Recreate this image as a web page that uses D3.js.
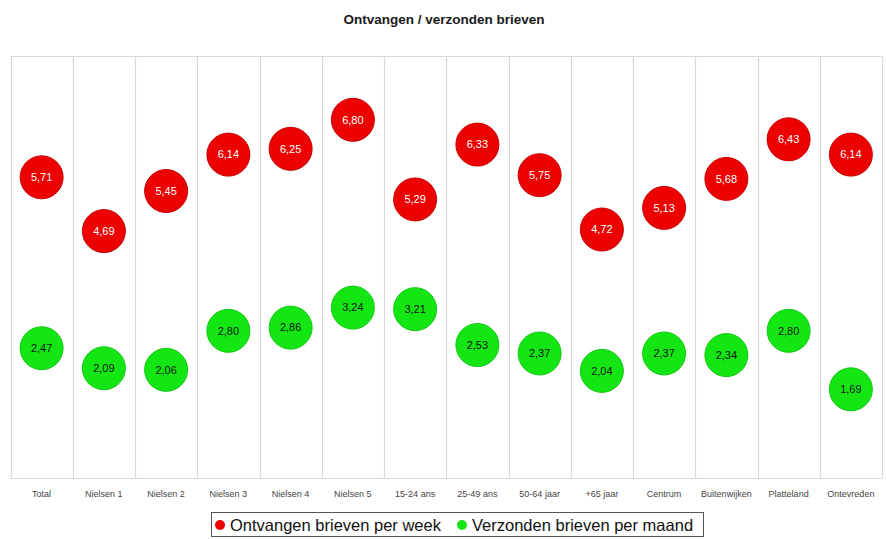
<!DOCTYPE html>
<html>
<head>
<meta charset="utf-8">
<script src="https://cdn.jsdelivr.net/npm/d3@7"></script>
<style>
  body { margin: 0; background: #fff; }
  svg { font-family: "Liberation Sans", Arial, sans-serif; display: block; }
</style>
</head>
<body>
<div id="chart"></div>
<script>
var categories = ["Total", "Nielsen 1", "Nielsen 2", "Nielsen 3", "Nielsen 4", "Nielsen 5", "15-24 ans",
    "25-49 ans", "50-64 jaar", "+65 jaar", "Centrum", "Buitenwijken", "Platteland", "Ontevreden"];
var ontvangen = [5.71, 4.69, 5.45, 6.14, 6.25, 6.80, 5.29, 6.33, 5.75, 4.72, 5.13, 5.68, 6.43, 6.14];
var verzonden = [2.47, 2.09, 2.06, 2.80, 2.86, 3.24, 3.21, 2.53, 2.37, 2.04, 2.37, 2.34, 2.80, 1.69];
var seriesNames = ["Ontvangen brieven per week", "Verzonden brieven per maand"];

var W = 887, H = 539;
var svg = d3.select("#chart").append("svg").attr("width", W).attr("height", H);

var x = d3.scaleBand().domain(categories).range([10.5, 882]).padding(0);
var y = d3.scaleLinear().domain([0, 8]).range([478.5, 56.5]);

var fmt = v => v.toFixed(2).replace(".", ",");

// title
svg.append("text").attr("x", 444).attr("y", 24).attr("text-anchor", "middle")
    .style("font-size", "13.5px").style("font-weight", "bold").attr("fill", "#1a1a1a")
    .text("Ontvangen / verzonden brieven");

// grid frame
var grid = svg.append("g").attr("stroke", "#d9d9d9").attr("stroke-width", 1.2);
var bounds = categories.map(c => x(c)).concat([x.range()[1]]);
grid.selectAll("line.v").data(bounds).enter().append("line")
    .attr("x1", d => Math.round(d) + 0.5).attr("x2", d => Math.round(d) + 0.5)
    .attr("y1", y.range()[1]).attr("y2", y.range()[0]);
grid.append("line").attr("x1", x.range()[0]).attr("x2", x.range()[1])
    .attr("y1", y.range()[1]).attr("y2", y.range()[1]);
grid.append("line").attr("x1", x.range()[0]).attr("x2", x.range()[1])
    .attr("y1", y.range()[0]).attr("y2", y.range()[0]);

// category labels
svg.append("g").selectAll("text").data(categories).enter().append("text")
    .attr("x", d => x(d) + x.bandwidth() / 2).attr("y", 497)
    .attr("text-anchor", "middle").style("font-size", "9px").attr("fill", "#444")
    .text(d => d);

// bubbles
var series = [
    {values: ontvangen, fill: "#ec0000", stroke: "#c80000", text: "#fff"},
    {values: verzonden, fill: "#14e614", stroke: "#10c810", text: "#111"}
];
series.forEach(s => {
    var g = svg.append("g").selectAll("g").data(s.values).enter().append("g")
        .attr("transform", (d, i) => `translate(${x(categories[i]) + x.bandwidth() / 2}, ${y(d)})`);
    g.append("circle").attr("r", 21.5).attr("fill", s.fill).attr("stroke", s.stroke).attr("stroke-width", 1);
    g.append("text").attr("dy", "0.35em").attr("text-anchor", "middle")
        .style("font-size", "11px").attr("fill", s.text).text(d => fmt(d));
});

// legend
var legend = svg.append("g");
legend.append("rect").attr("x", 211.5).attr("y", 512.5).attr("width", 492).attr("height", 24)
    .attr("fill", "#fff").attr("stroke", "#555").attr("stroke-width", 1);
var legItems = [{x: 220, color: "#ec0000"}, {x: 462, color: "#14e614"}];
legItems.forEach((it, i) => {
    legend.append("circle").attr("cx", it.x).attr("cy", 525).attr("r", 5).attr("fill", it.color);
    legend.append("text").attr("x", it.x + 10).attr("y", 530.5)
        .style("font-size", "16.5px").attr("fill", "#111").text(seriesNames[i]);
});
</script>
</body>
</html>
